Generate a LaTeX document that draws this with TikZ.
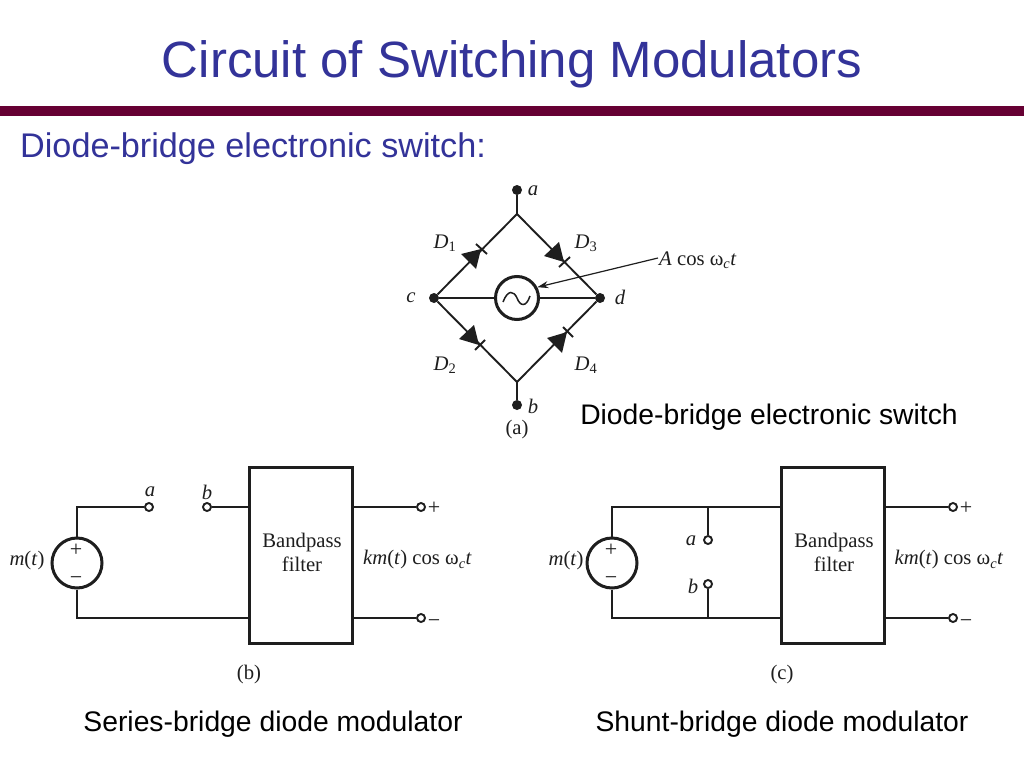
\documentclass[tikz,border=0pt]{standalone}
\usepackage{fontspec}
\setmainfont{Liberation Serif}
\newfontfamily\arialf{Liberation Sans}
\usetikzlibrary{arrows.meta}
\definecolor{slideblue}{RGB}{51,51,153}
\definecolor{barmaroon}{RGB}{102,0,51}
\definecolor{ink}{RGB}{30,30,30}
\tikzset{
  x=1pt,y=-1pt,
  wire/.style={draw=ink,line width=1.9pt},
  thinw/.style={draw=ink,line width=1.2pt},
  dot/.style={circle,fill=ink,draw=none,minimum size=10pt,inner sep=0pt},
  term/.style={circle,draw=ink,line width=1.9pt,fill=white,minimum size=8pt,inner sep=0pt},
  source/.style={circle,draw=ink,line width=3pt,fill=white,inner sep=0pt},
  filterbox/.style={rectangle,draw=ink,line width=3pt,fill=white,minimum width=103pt,minimum height=176pt,inner sep=0pt},
  lab/.style={inner sep=0pt,text=ink,yshift=-2pt,font=\fontsize{20.7}{24}\selectfont},
  sym/.style={inner sep=0pt,text=ink,yshift=-3.5pt,font=\fontsize{22}{24}\selectfont},
  headline/.style={inner sep=0pt,text=slideblue,font=\arialf\fontsize{51}{56}\selectfont},
  sublabel/.style={inner sep=0pt,text=slideblue,font=\arialf\fontsize{34.2}{38}\selectfont},
  caption/.style={inner sep=0pt,text=black,font=\arialf\fontsize{28.3}{32}\selectfont},
  diode/.style={fill=ink,draw=none},
}
\begin{document}
\begin{tikzpicture}
\useasboundingbox (0,0) rectangle (1024,768);
\fill[white] (0,0) rectangle (1024,768);
% header
\node[headline] (title) at (512,64) {Circuit of Switching Modulators};
\fill[barmaroon] (0,106) rectangle (1024,116);
\node[sublabel,anchor=west] (sub) at (20,149) {Diode-bridge electronic switch:};
% panel a
\node[dot] (a) at (517,190) {};
\node[dot] (b) at (517,405) {};
\node[dot] (c) at (434,298) {};
\node[dot] (d) at (600,298) {};
\coordinate (top) at (517,214);
\coordinate (bot) at (517,382);
\node[source,minimum size=43pt] (ac) at (517,298) {};
\draw[wire] (a) -- (top) -- (c) -- (bot) -- (b);
\draw[wire] (top) -- (d) -- (bot);
\draw[wire] (c) -- (ac) -- (d);
\draw[wire,line width=1.5pt] (503,302) .. controls (508,289) and (514,291) .. (517,298) .. controls (520,306) and (526,308) .. (530,296);
\fill[diode] (461,254) -- (476,269) -- (481,249) -- cycle;
\draw[wire] (476,244) -- (487,254);
\fill[diode] (544,256) -- (559,242) -- (564,262) -- cycle;
\draw[wire] (559,267) -- (570,257);
\fill[diode] (459,339) -- (474,325) -- (479,345) -- cycle;
\draw[wire] (475,350) -- (485,340);
\fill[diode] (547,338) -- (562,353) -- (567,332) -- cycle;
\draw[wire] (563,327) -- (573,337);
\node[lab,anchor=west] (lacos) at (659,258) {\textit{A} cos ω\textsubscript{\textit{c}}\textit{t}};
\coordinate (arrowstart) at (658,258);
\draw[thinw,-{Stealth[length=11pt,width=7pt]}] (arrowstart) -- (ac.28);
\node[lab] (la) at (533,189) {\textit{a}};
\node[lab] (lb) at (533,404) {\textit{b}};
\node[lab] (lc) at (411,296) {\textit{c}};
\node[lab] (ld) at (620,295) {\textit{d}};
\node[lab] (ld1) at (445,241) {\textit{D}\textsubscript{1}};
\node[lab] (ld3) at (586,241) {\textit{D}\textsubscript{3}};
\node[lab] (ld2) at (445,363) {\textit{D}\textsubscript{2}};
\node[lab] (ld4) at (586,363) {\textit{D}\textsubscript{4}};
\node[lab] (capa) at (517,428) {(a)};
\node[caption] (capd) at (769,417) {Diode-bridge electronic switch};
% panel b
\node[filterbox] (fb) at (300.5,555) {};
\node[lab] (fbt1) at (302,541) {Bandpass};
\node[lab] (fbt2) at (302,562) {filter};
\node[source,minimum size=50pt] (sb) at (77,563) {};
\node[term] (tba) at (149,507) {};
\node[term] (tbb) at (207,507) {};
\node[term] (tbp) at (421,507) {};
\node[term] (tbm) at (421,618) {};
\coordinate (bul) at (77,507);
\coordinate (bll) at (77,618);
\draw[wire] (sb) -- (bul) -- (tba);
\draw[wire] (tbb) -- (tbb -| fb.west);
\draw[wire] (sb) -- (bll) -- (bll -| fb.west);
\draw[wire] (tbp -| fb.east) -- (tbp);
\draw[wire] (tbm -| fb.east) -- (tbm);
\node[sym] at (76,547) {+};
\node[sym] at (76,577) {−};
\node[lab] at (150,490) {\textit{a}};
\node[lab] at (207,490) {\textit{b}};
\node[lab] at (27,559) {\textit{m}(\textit{t})};
\node[sym] at (434,505) {+};
\node[sym] at (434,620) {−};
\node[lab] at (417.5,558) {\textit{km}(\textit{t}) cos ω\textsubscript{\textit{c}}\textit{t}};
\node[lab] at (249,673) {(b)};
\node[caption] at (273,724) {Series-bridge diode modulator};
% panel c
\node[filterbox] (fc) at (833,555) {};
\node[lab] (fct1) at (834,541) {Bandpass};
\node[lab] (fct2) at (834,562) {filter};
\node[source,minimum size=50pt] (sc) at (612,563) {};
\node[term] (tca) at (708,540) {};
\node[term] (tcb) at (708,584) {};
\node[term] (tcp) at (953,507) {};
\node[term] (tcm) at (953,618) {};
\coordinate (cul) at (612,507);
\coordinate (cll) at (612,618);
\coordinate (cut) at (708,507);
\coordinate (clt) at (708,618);
\draw[wire] (sc) -- (cul) -- (cul -| fc.west);
\draw[wire] (sc) -- (cll) -- (cll -| fc.west);
\draw[wire] (cut) -- (tca);
\draw[wire] (clt) -- (tcb);
\draw[wire] (tcp -| fc.east) -- (tcp);
\draw[wire] (tcm -| fc.east) -- (tcm);
\node[sym] at (611,547) {+};
\node[sym] at (611,577) {−};
\node[lab] at (691,539) {\textit{a}};
\node[lab] at (693,584) {\textit{b}};
\node[lab] at (566,559) {\textit{m}(\textit{t})};
\node[sym] at (966,505) {+};
\node[sym] at (966,620) {−};
\node[lab] at (949,558) {\textit{km}(\textit{t}) cos ω\textsubscript{\textit{c}}\textit{t}};
\node[lab] at (782,673) {(c)};
\node[caption] at (782,724) {Shunt-bridge diode modulator};
\end{tikzpicture}
\end{document}
